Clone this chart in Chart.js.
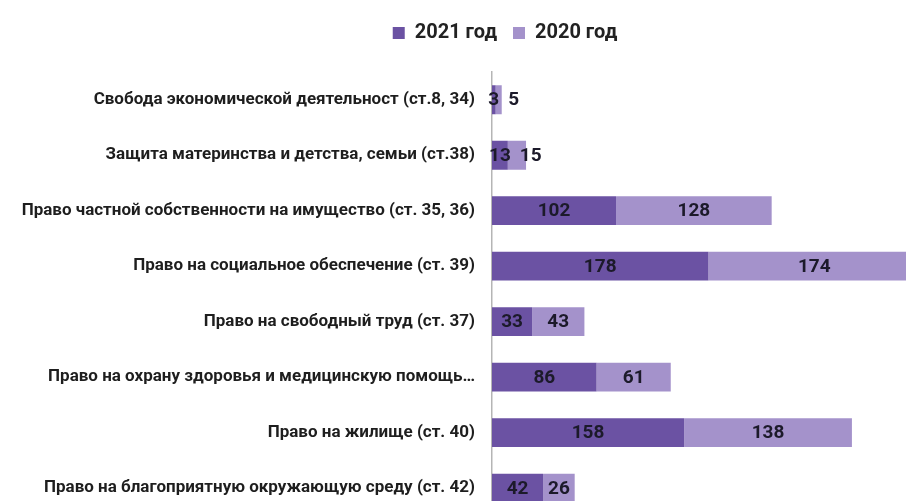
<!DOCTYPE html>
<html>
<head>
<meta charset="utf-8">
<script src="https://cdn.jsdelivr.net/npm/chart.js@4"></script>
<style>
  html, body { margin: 0; padding: 0; background: #fff; overflow: hidden; }
  /* the plot runs past the right and bottom edges of the window, as in the original */
  .chart-wrapper { position: relative; width: 1010px; height: 543px; }
</style>
</head>
<body>
<div class="chart-wrapper">
  <canvas id="myChart"></canvas>
</div>
<script>
const categories = [
  "Свобода экономической деятельност (ст.8, 34)",
  "Защита материнства и детства, семьи (ст.38)",
  "Право частной собственности на имущество (ст. 35, 36)",
  "Право на социальное обеспечение (ст. 39)",
  "Право на свободный труд (ст. 37)",
  "Право на охрану здоровья и медицинскую помощь…",
  "Право на жилище (ст. 40)",
  "Право на благоприятную окружающую среду (ст. 42)"
];
const values2021 = [3, 13, 102, 178, 33, 86, 158, 42];
const values2020 = [5, 15, 128, 174, 43, 61, 138, 26];
const seriesNames = ["2021 год", "2020 год"];

const FONT = "Roboto, 'DejaVu Sans', sans-serif";

// values drawn in the middle of each segment, pushed right if they'd collide
const barLabels = {
  id: "barLabels",
  afterDatasetsDraw(chart) {
    const ctx = chart.ctx;
    ctx.save();
    ctx.font = "bold 19px " + FONT;
    ctx.fillStyle = "#1c1a2a";
    ctx.textAlign = "center";
    ctx.textBaseline = "middle";
    chart.data.labels.forEach((_, i) => {
      let prevRight = -Infinity;
      chart.data.datasets.forEach((ds, d) => {
        const bar = chart.getDatasetMeta(d).data[i];
        const text = String(ds.data[i]);
        const w = ctx.measureText(text).width;
        let x = (bar.x + bar.base) / 2;
        if (x - w / 2 < prevRight + 9) x = prevRight + 9 + w / 2;
        ctx.fillText(text, x, bar.y + 1);
        prevRight = x + w / 2;
      });
    });
    ctx.restore();
  }
};

new Chart(document.getElementById("myChart"), {
  type: "bar",
  data: {
    labels: categories,
    datasets: [
      {
        label: seriesNames[0],
        data: values2021,
        backgroundColor: "#6b52a3",
        categoryPercentage: 1,
        barPercentage: 0.52
      },
      {
        label: seriesNames[1],
        data: values2020,
        backgroundColor: "#a492cb",
        categoryPercentage: 1,
        barPercentage: 0.52
      }
    ]
  },
  options: {
    indexAxis: "y",
    responsive: true,
    maintainAspectRatio: false,
    animation: false,
    layout: { padding: { left: 0, right: 0, top: 7, bottom: 0 } },
    plugins: {
      legend: {
        position: "top",
        labels: {
          boxWidth: 12,
          boxHeight: 12,
          padding: 16,
          color: "#222",
          font: { family: FONT, size: 20, weight: "bold" }
        }
      },
      // empty title used as a gap between legend and plot
      title: {
        display: true,
        text: "",
        weight: 500,
        font: { size: 1, lineHeight: 1 },
        padding: { top: 18, bottom: 0 }
      },
      tooltip: { enabled: false }
    },
    scales: {
      x: {
        stacked: true,
        display: false,
        min: 0,
        max: 426
      },
      y: {
        stacked: true,
        grid: { display: false, drawTicks: false },
        border: { display: true, color: "#b5b5b5", width: 1.5 },
        ticks: {
          padding: 17,
          color: "#1e1e1e",
          font: { family: FONT, size: 17, weight: "bold" }
        },
        afterFit(scale) { scale.width = 492; }
      }
    }
  },
  plugins: [barLabels]
});
</script>
</body>
</html>
